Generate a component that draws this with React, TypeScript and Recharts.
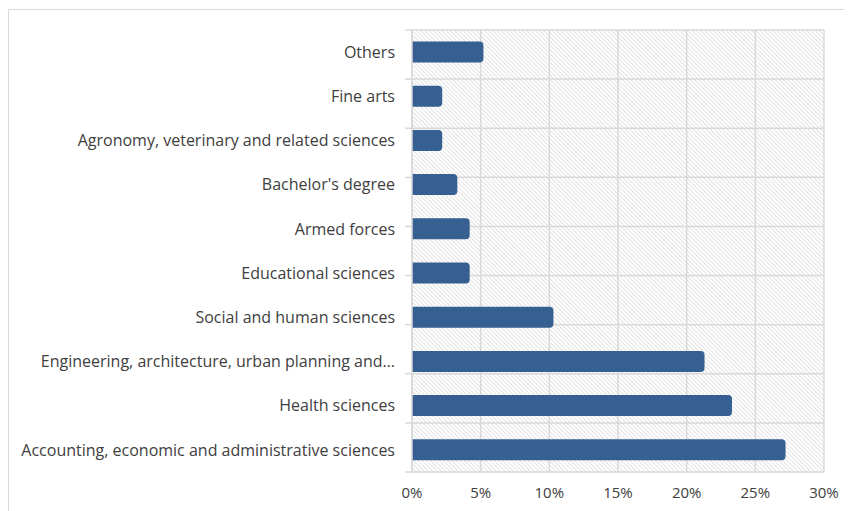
import { BarChart, Bar, XAxis, YAxis, CartesianGrid } from 'recharts'

const categories = [
  'Others',
  'Fine arts',
  'Agronomy, veterinary and related sciences',
  "Bachelor's degree",
  'Armed forces',
  'Educational sciences',
  'Social and human sciences',
  'Engineering, architecture, urban planning and…',
  'Health sciences',
  'Accounting, economic and administrative sciences',
]
const shares = [5.2, 2.2, 2.2, 3.3, 4.2, 4.2, 10.3, 21.3, 23.3, 27.2]
const percentTicks = [0, 5, 10, 15, 20, 25, 30]
const rowEdges = [0, 1, 2, 3, 4, 5, 6, 7, 8, 9, 10]

const data = categories.map((name, i) => ({ name, value: shares[i] }))

const FONT = '"Open Sans", sans-serif'
const GRID = '#d9d9d9'

export default function App() {
  return (
    <div style={{ marginTop: 1, width: 852, height: 510, borderTop: `1px solid ${GRID}`, borderLeft: `1px solid ${GRID}`, background: '#fff' }}>
      <BarChart width={843} height={501} data={data} layout="vertical"
        margin={{ top: 20, right: 28, left: 0, bottom: 9 }} barCategoryGap="26%">
        <defs>
          <pattern id="hatch" width="3" height="3" patternUnits="userSpaceOnUse" patternTransform="rotate(-45)">
            <rect width="3" height="3" fill="#fff" />
            <line x1="0.5" y1="0" x2="0.5" y2="3" stroke="#e2e2e2" strokeWidth="1" />
          </pattern>
        </defs>
        <CartesianGrid yAxisId="axisRows" stroke={GRID} strokeWidth={1.5} fill="url(#hatch)" />
        <XAxis type="number" domain={[0, 30]} ticks={percentTicks} tickFormatter={v => `${v}%`}
          axisLine={false} tickLine={false} tickMargin={9} height={30}
          tick={{ fill: '#404040', fontSize: 15, fontFamily: FONT }} />
        <YAxis yAxisId="cat" type="category" dataKey="name" width={394} interval={0}
          axisLine={false} tickLine={false}
          tick={{ fill: '#404040', fontSize: 16, fontFamily: FONT }} />
        <YAxis yAxisId="axisRows" type="number" domain={[0, 10]} ticks={rowEdges} interval={0}
          width={9} tickSize={7} tickFormatter={() => ''}
          axisLine={{ stroke: GRID, strokeWidth: 1.5 }} tickLine={{ stroke: GRID, strokeWidth: 1.5 }} />
        <Bar yAxisId="cat" dataKey="value" fill="#365f92" radius={[0, 4, 4, 0]} isAnimationActive={false} />
      </BarChart>
    </div>
  )
}
